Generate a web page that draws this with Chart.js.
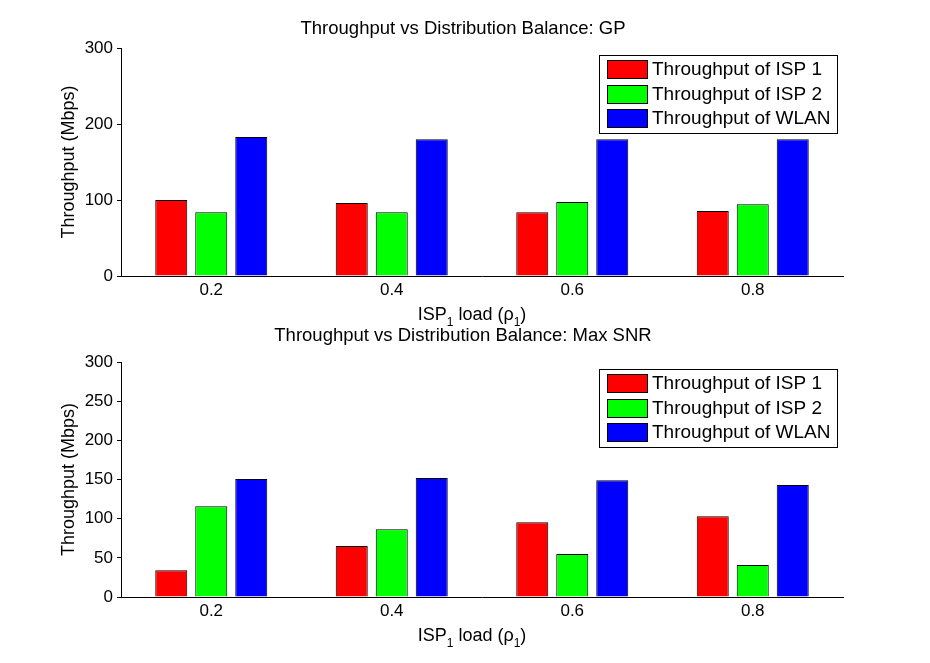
<!DOCTYPE html>
<html><head><meta charset="utf-8">
<script src="https://cdn.jsdelivr.net/npm/chart.js@4.4.0/dist/chart.umd.min.js"></script>
<style>
html,body{margin:0;padding:0;background:#fff;width:930px;height:663px;overflow:hidden}
.wrap{position:absolute;left:0;width:930px}
canvas{display:block}
</style></head><body>
<div class="wrap" style="top:0;height:330px"><canvas id="c1" width="930" height="330"></canvas></div>
<div class="wrap" style="top:300px;height:363px"><canvas id="c2" width="930" height="363"></canvas></div>
<script>
// ---- data ----
const categories = ['0.2', '0.4', '0.6', '0.8'];
const seriesLabels = ['Throughput of ISP 1', 'Throughput of ISP 2', 'Throughput of WLAN'];
const gpIsp1 = [100, 96, 84, 85.5];
const gpIsp2 = [84, 84, 97.5, 94.5];
const gpWlan = [183, 180, 180, 180];
const snrIsp1 = [34, 65, 95.5, 103];
const snrIsp2 = [116, 86.5, 55, 41];
const snrWlan = [150.5, 152, 149, 143];
const gpYTicks = [0, 100, 200, 300];
const snrYTicks = [0, 50, 100, 150, 200, 250, 300];
const titleGP = 'Throughput vs Distribution Balance: GP';
const titleSNR = 'Throughput vs Distribution Balance: Max SNR';
const yTitle = 'Throughput (Mbps)';
const seriesColors = ['#ff0000', '#00ff00', '#0000ff'];

const FONT = "'Liberation Sans', Arial, Helvetica, sans-serif";

const decor = {
  id: 'decor',
  afterDraw(chart, args, opts) {
    const ctx = chart.ctx;
    const ca = chart.chartArea;
    ctx.save();
    // title
    ctx.fillStyle = '#000';
    ctx.font = '18.5px ' + FONT;
    ctx.textAlign = 'center';
    ctx.textBaseline = 'alphabetic';
    ctx.fillText(opts.title, opts.titleX, opts.titleY);
    // x label with subscripts
    const parts = [
      ['ISP', 18, 0], ['1', 12, 6], [' load (', 18, 0], ['\u03C1', 18, 0], ['1', 12, 6], [')', 18, 0]
    ];
    let total = 0;
    parts.forEach(p => { ctx.font = p[1] + 'px ' + FONT; total += ctx.measureText(p[0]).width; });
    let x = opts.xlabelX - total / 2;
    const by = ca.bottom + 44;
    ctx.textAlign = 'left';
    parts.forEach(p => {
      ctx.font = p[1] + 'px ' + FONT;
      ctx.fillText(p[0], x, by + p[2]);
      x += ctx.measureText(p[0]).width;
    });
    // legend
    const lw = 238, lh = 78;
    const lx = Math.round(ca.right - 6 - lw), ly = Math.round(ca.top + 7);
    ctx.fillStyle = '#fff';
    ctx.fillRect(lx, ly, lw, lh);
    ctx.strokeStyle = '#000';
    ctx.lineWidth = 1;
    ctx.strokeRect(lx + 0.5, ly + 0.5, lw, lh);
    const rowY = [5, 30, 54];
    ctx.font = '19px ' + FONT;
    ctx.textBaseline = 'middle';
    chart.data.datasets.forEach((ds, i) => {
      const sy = ly + rowY[i];
      ctx.fillStyle = ds.backgroundColor;
      ctx.fillRect(lx + 8, sy, 40, 18);
      ctx.strokeRect(lx + 8.5, sy + 0.5, 40, 18);
      ctx.fillStyle = '#000';
      ctx.fillText(ds.label, lx + 53, sy + 10);
    });
    ctx.restore();
  }
};

function makeChart(id, vals, yTicks, padTop, padBottom, title, titleY) {
  return new Chart(document.getElementById(id), {
    type: 'bar',
    data: {
      labels: categories,
      datasets: vals.map((v, i) => ({
        label: seriesLabels[i],
        data: v,
        backgroundColor: seriesColors[i],
        borderColor: '#000',
        borderWidth: 1,
        categoryPercentage: 120 / 180.5,
        barPercentage: 0.8
      }))
    },
    options: {
      responsive: false,
      animation: false,
      devicePixelRatio: 1,
      layout: { padding: { left: 50, right: 87, top: padTop, bottom: padBottom } },
      plugins: {
        legend: { display: false },
        title: { display: false },
        tooltip: { enabled: false },
        decor: { title: title, titleX: 463, titleY: titleY, xlabelX: 472 }
      },
      scales: {
        x: {
          offset: true,
          afterFit: s => { s.height = 40; },
          border: { display: true, color: '#000', width: 1 },
          grid: { display: false, drawTicks: false },
          ticks: { color: '#000', font: { family: FONT, size: 17 }, padding: 4 }
        },
        y: {
          min: 0, max: 300,
          afterBuildTicks: s => { s.ticks = yTicks.map(v => ({ value: v })); },
          afterFit: s => { s.width = 71; },
          border: { display: true, color: '#000', width: 1 },
          grid: { display: true, drawOnChartArea: false, drawTicks: true, tickLength: 4, color: '#000', lineWidth: 1 },
          ticks: { color: '#000', font: { family: FONT, size: 17 }, padding: 4 },
          title: { display: true, text: yTitle, color: '#000', font: { family: FONT, size: 18 }, padding: { top: 8, bottom: 0 } }
        }
      }
    },
    plugins: [decor]
  });
}

makeChart('c1', [gpIsp1, gpIsp2, gpWlan], gpYTicks, 48, 14, titleGP, 34);
makeChart('c2', [snrIsp1, snrIsp2, snrWlan], snrYTicks, 62, 26, titleSNR, 41);
</script>
</body></html>
